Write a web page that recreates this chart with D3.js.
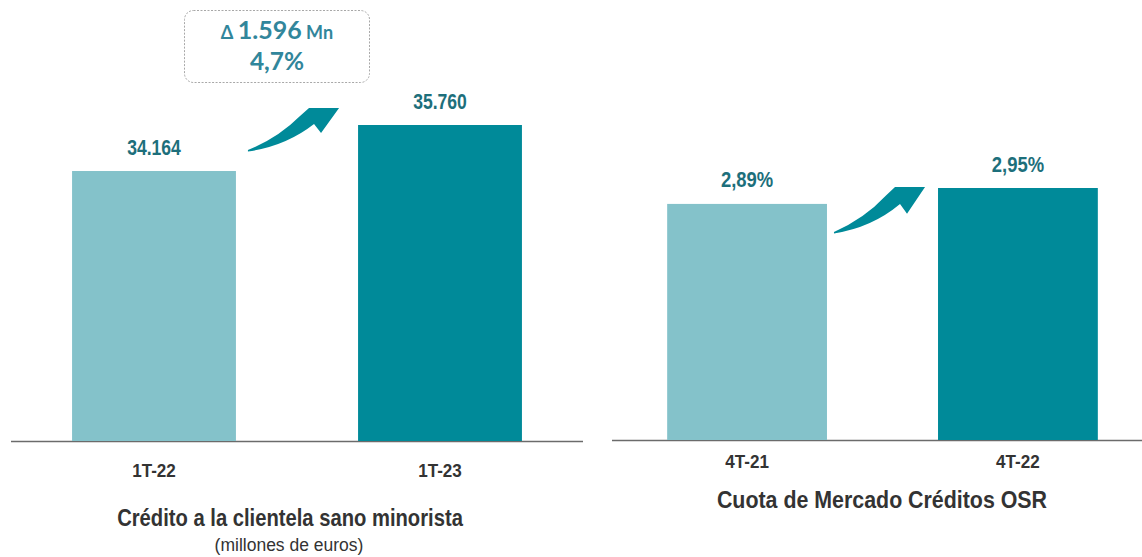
<!DOCTYPE html>
<html>
<head>
<meta charset="utf-8">
<script src="https://cdn.jsdelivr.net/npm/d3@7"></script>
<style>
  body { margin: 0; background: #fff; }
  svg { display: block; }
  .narrow { font-family: "Liberation Sans Narrow", "Arial Narrow", "Liberation Sans", Arial, sans-serif; }
</style>
</head>
<body>
<svg width="1142" height="557"></svg>
<script>
const svg = d3.select("svg");

// data
const creditCats = ["1T-22", "1T-23"];
const creditVals = [34164, 35760];
const quotaCats = ["4T-21", "4T-22"];
const quotaVals = [2.89, 2.95];

const lightTeal = "#84c2ca";
const darkTeal = "#008a99";
const labelTeal = "#1d6f7b";

const es = d3.formatLocale({ decimal: ",", thousands: ".", grouping: [3], currency: ["", " €"] });
const fmtInt = es.format(",d");
const fmtPct = v => es.format(".2f")(v) + "%";

// no narrow font installed, so squeeze the regular one
const squeeze = (x, y, s) => `translate(${x},${y}) scale(${s},1)`;

// arrow shape, drawn for a tail->tip of (91,-42) and stretched to fit
function arrowPath(x0, y0, x1, y1) {
    const sx = (x1 - x0) / 91, sy = (y1 - y0) / -42;
    const p = (x, y) => [x0 + x * sx, y0 - y * sy];
    const pts = {
        a: p(0, 0), c1: p(30, 12), b: p(52, 34), h1: p(61, 42), tip: p(91, 42),
        h2: p(73, 17), d: p(66, 26), c2: p(38, 4), e: p(0, -1.5)
    };
    return `M${pts.a} Q${pts.c1} ${pts.b} L${pts.h1} L${pts.tip} L${pts.h2} L${pts.d} Q${pts.c2} ${pts.e} Z`;
}

function panel(cfg) {
    const g = svg.append("g");

    const x = d3.scaleBand()
        .domain(cfg.cats)
        .range(cfg.xRange)
        .paddingInner(cfg.padInner)
        .paddingOuter(cfg.padOuter);

    const y = d3.scaleLinear()
        .domain(cfg.yDomain)
        .range([cfg.base, cfg.topY]);

    const cx = c => x(c) + x.bandwidth() / 2;

    g.append("line")
        .attr("x1", cfg.axis[0]).attr("x2", cfg.axis[1])
        .attr("y1", cfg.base + 0.5).attr("y2", cfg.base + 0.5)
        .attr("stroke", "#6b6b6b").attr("stroke-width", 1.5);

    g.selectAll("rect")
        .data(cfg.vals)
        .enter().append("rect")
        .attr("x", (d, i) => x(cfg.cats[i]))
        .attr("y", d => y(d))
        .attr("width", x.bandwidth())
        .attr("height", d => cfg.base - y(d))
        .attr("fill", (d, i) => i === 0 ? lightTeal : darkTeal);

    g.selectAll("text.val")
        .data(cfg.vals)
        .enter().append("text")
        .attr("class", "val narrow")
        .attr("transform", (d, i) => squeeze(cx(cfg.cats[i]), y(d) - 16.5, cfg.valSqueeze))
        .attr("text-anchor", "middle")
        .attr("font-size", 22.5)
        .attr("font-weight", "bold")
        .attr("fill", labelTeal)
        .text(cfg.fmt);

    g.selectAll("text.cat")
        .data(cfg.cats)
        .enter().append("text")
        .attr("class", "cat narrow")
        .attr("transform", d => squeeze(cx(d), cfg.catY, 0.95))
        .attr("text-anchor", "middle")
        .attr("font-size", 18)
        .attr("font-weight", "bold")
        .attr("fill", "#333")
        .text(d => d);

    cfg.titles.forEach(t => {
        g.append("text")
            .attr("class", "narrow")
            .attr("transform", squeeze(t.x, t.y, t.sq))
            .attr("text-anchor", "middle")
            .attr("font-size", t.size)
            .attr("font-weight", t.bold ? "bold" : "normal")
            .attr("fill", "#333")
            .text(t.text);
    });

    // arrow between the two bars
    const r0 = x(cfg.cats[0]) + x.bandwidth();
    const l1 = x(cfg.cats[1]);
    const a = cfg.arrow;
    g.append("path")
        .attr("d", arrowPath(r0 + a[0], y(cfg.vals[0]) + a[1], l1 + a[2], y(cfg.vals[1]) + a[3]))
        .attr("fill", darkTeal);

    return { x, y };
}

panel({
    cats: creditCats, vals: creditVals,
    xRange: [11, 583], padInner: 0.427, padOuter: 0.2135,
    yDomain: [24800, 35760], base: 441, topY: 125,
    axis: [11, 583], catY: 477, valSqueeze: 0.78,
    fmt: d => fmtInt(d),
    arrow: [12, -21, -19, -17],
    titles: [
        { text: "Crédito a la clientela sano minorista", x: 290, y: 526, size: 23.5, bold: true, sq: 0.86 },
        { text: "(millones  de  euros)", x: 289, y: 551, size: 17.5, bold: false, sq: 1 }
    ]
});

panel({
    cats: quotaCats, vals: quotaVals,
    xRange: [613, 1152], padInner: 0.41, padOuter: 0.2,
    yDomain: [2.0, 2.95], base: 440, topY: 188,
    axis: [612, 1142], catY: 468, valSqueeze: 0.82,
    fmt: d => fmtPct(d),
    arrow: [7, 28, -13, -1],
    titles: [
        { text: "Cuota de Mercado Créditos OSR", x: 882, y: 508, size: 23.5, bold: true, sq: 0.91 }
    ]
});

// callout with the change
const diff = creditVals[1] - creditVals[0];
const pct = diff / creditVals[0] * 100;
const box = svg.append("g");
box.append("rect")
    .attr("x", 184.5).attr("y", 10.5)
    .attr("width", 185).attr("height", 72)
    .attr("rx", 9)
    .attr("fill", "#fff")
    .attr("stroke", "#a8a8a8")
    .attr("stroke-width", 1)
    .attr("stroke-dasharray", "2,1.5");

const t1 = box.append("text")
    .attr("x", 277).attr("y", 39)
    .attr("text-anchor", "middle")
    .attr("font-family", "Lato, 'Open Sans', sans-serif")
    .attr("font-weight", "bold")
    .attr("fill", "#31869b");
t1.append("tspan").attr("font-size", 18).text("\u0394 ");
t1.append("tspan").attr("font-size", 25).text(fmtInt(diff));
t1.append("tspan").attr("font-size", 18).text(" Mn");

box.append("text")
    .attr("x", 277).attr("y", 70)
    .attr("text-anchor", "middle")
    .attr("font-family", "Lato, 'Open Sans', sans-serif")
    .attr("font-weight", "bold")
    .attr("font-size", 24.5)
    .attr("fill", "#31869b")
    .text(es.format(".1f")(pct) + "%");
</script>
</body>
</html>
